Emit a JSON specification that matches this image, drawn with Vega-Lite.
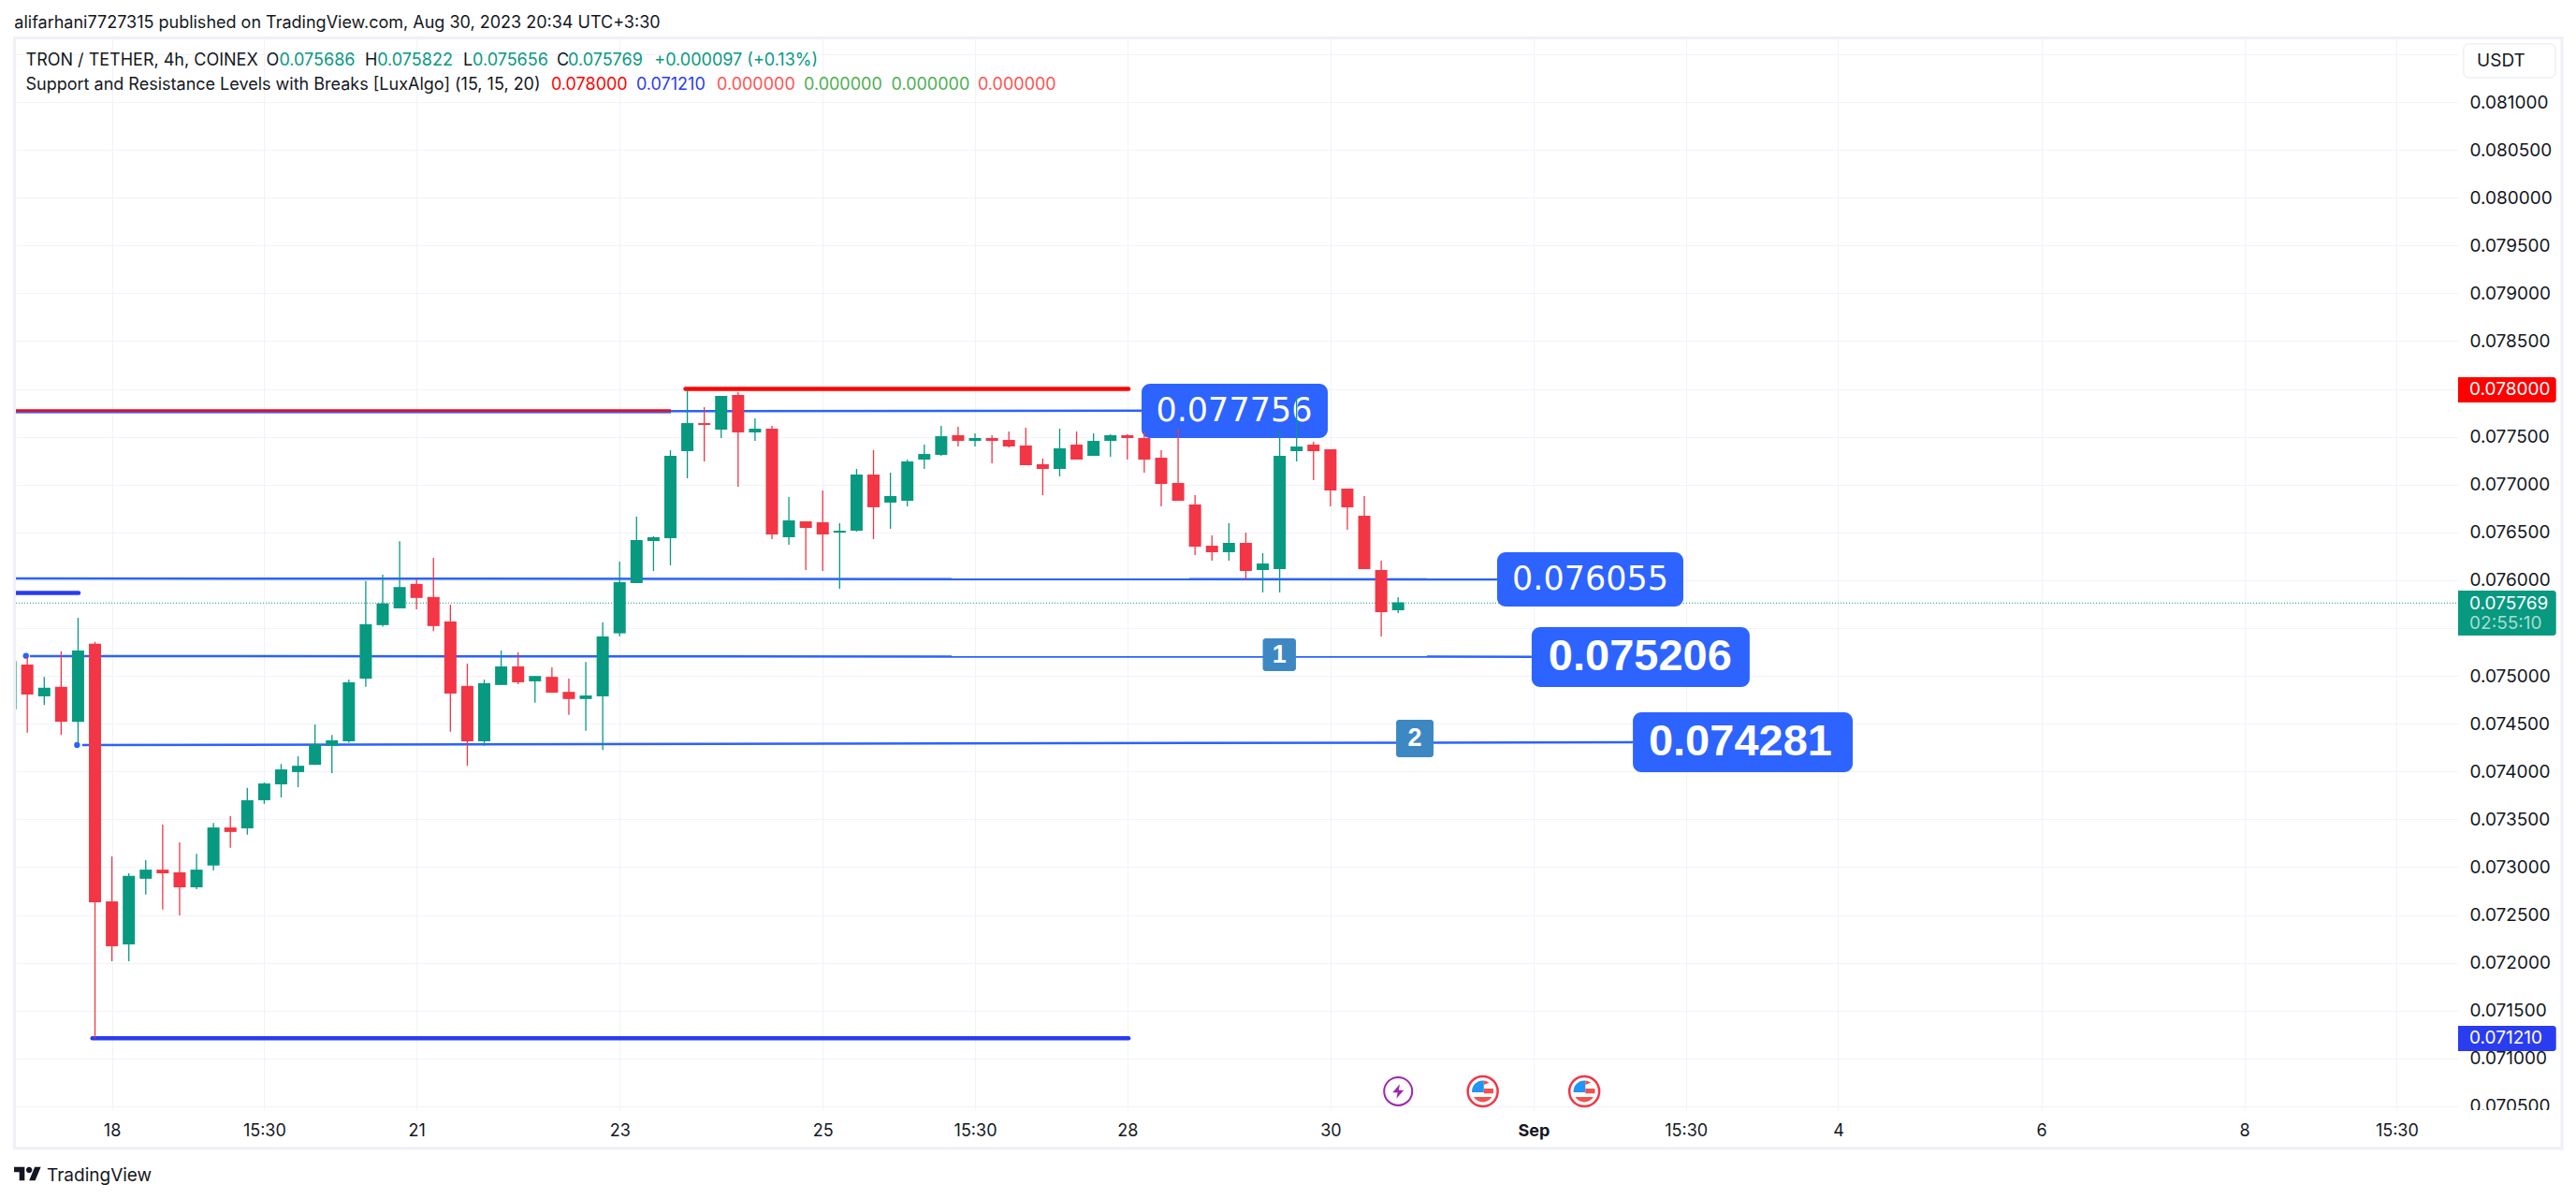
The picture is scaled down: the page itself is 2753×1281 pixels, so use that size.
{"$schema":"https://vega.github.io/schema/vega-lite/v6.json","width":2610,"height":1144,"autosize":{"type":"none"},"padding":{"left":17,"top":42,"right":126,"bottom":95},"background":"#ffffff","config":{"view":{"stroke":null},"font":"Inter"},
"datasets":{"candles":[
{"bar":-6,"o":0.074648,"h":0.075156,"l":0.074648,"c":0.075156},
{"bar":-5,"o":0.075118,"h":0.075194,"l":0.074407,"c":0.074805},
{"bar":-4,"o":0.074786,"h":0.07499,"l":0.074696,"c":0.074876},
{"bar":-3,"o":0.074886,"h":0.075256,"l":0.074383,"c":0.07452},
{"bar":-2,"o":0.07452,"h":0.075607,"l":0.074293,"c":0.075265},
{"bar":-1,"o":0.075336,"h":0.075355,"l":0.07121,"c":0.072633},
{"bar":0,"o":0.072642,"h":0.073112,"l":0.072016,"c":0.072173},
{"bar":1,"o":0.072192,"h":0.072936,"l":0.072016,"c":0.072908},
{"bar":2,"o":0.072879,"h":0.073074,"l":0.072713,"c":0.072974},
{"bar":3,"o":0.072974,"h":0.073444,"l":0.072557,"c":0.072936},
{"bar":4,"o":0.072946,"h":0.073259,"l":0.072495,"c":0.072789},
{"bar":5,"o":0.072789,"h":0.07314,"l":0.07277,"c":0.072974},
{"bar":6,"o":0.073017,"h":0.073463,"l":0.072965,"c":0.073415},
{"bar":7,"o":0.073415,"h":0.073534,"l":0.073202,"c":0.073368},
{"bar":8,"o":0.073406,"h":0.073828,"l":0.073339,"c":0.0737},
{"bar":9,"o":0.0737,"h":0.073885,"l":0.073662,"c":0.073875},
{"bar":10,"o":0.073866,"h":0.074079,"l":0.073728,"c":0.074022},
{"bar":11,"o":0.073994,"h":0.07416,"l":0.073837,"c":0.07406},
{"bar":12,"o":0.07407,"h":0.074492,"l":0.07407,"c":0.074283},
{"bar":13,"o":0.074269,"h":0.074383,"l":0.073984,"c":0.074326},
{"bar":14,"o":0.074316,"h":0.074961,"l":0.074302,"c":0.074933},
{"bar":15,"o":0.074971,"h":0.075991,"l":0.074886,"c":0.07554},
{"bar":16,"o":0.075531,"h":0.076057,"l":0.075516,"c":0.075758},
{"bar":17,"o":0.075706,"h":0.076408,"l":0.075706,"c":0.075929},
{"bar":18,"o":0.075962,"h":0.07601,"l":0.075697,"c":0.075815},
{"bar":19,"o":0.075825,"h":0.076233,"l":0.075469,"c":0.075521},
{"bar":20,"o":0.075569,"h":0.075744,"l":0.074416,"c":0.074814},
{"bar":21,"o":0.074895,"h":0.075128,"l":0.07406,"c":0.074316},
{"bar":22,"o":0.074316,"h":0.074961,"l":0.074269,"c":0.074924},
{"bar":23,"o":0.074905,"h":0.075265,"l":0.074905,"c":0.075099},
{"bar":24,"o":0.075099,"h":0.075246,"l":0.074914,"c":0.074933},
{"bar":25,"o":0.074943,"h":0.074999,"l":0.07472,"c":0.074999},
{"bar":26,"o":0.07499,"h":0.07509,"l":0.074824,"c":0.074824},
{"bar":27,"o":0.074833,"h":0.074971,"l":0.074592,"c":0.074758},
{"bar":28,"o":0.074758,"h":0.075146,"l":0.074425,"c":0.074795},
{"bar":29,"o":0.074786,"h":0.075559,"l":0.074226,"c":0.075412},
{"bar":30,"o":0.075445,"h":0.076195,"l":0.075412,"c":0.07598},
{"bar":31,"o":0.07597,"h":0.076665,"l":0.07597,"c":0.07642},
{"bar":32,"o":0.07641,"h":0.076459,"l":0.076097,"c":0.07645},
{"bar":33,"o":0.07644,"h":0.07736,"l":0.076156,"c":0.077301},
{"bar":34,"o":0.07735,"h":0.077989,"l":0.077066,"c":0.077643},
{"bar":35,"o":0.077643,"h":0.07781,"l":0.077242,"c":0.077624},
{"bar":36,"o":0.077575,"h":0.077927,"l":0.077487,"c":0.077927},
{"bar":37,"o":0.077937,"h":0.077966,"l":0.076978,"c":0.077546},
{"bar":38,"o":0.077546,"h":0.077692,"l":0.077457,"c":0.077585},
{"bar":39,"o":0.077585,"h":0.077614,"l":0.07643,"c":0.076479},
{"bar":40,"o":0.07645,"h":0.07687,"l":0.076371,"c":0.076626},
{"bar":41,"o":0.076616,"h":0.076616,"l":0.076107,"c":0.076547},
{"bar":42,"o":0.076606,"h":0.076939,"l":0.076097,"c":0.076479},
{"bar":43,"o":0.076498,"h":0.076596,"l":0.075911,"c":0.076518},
{"bar":44,"o":0.076518,"h":0.077164,"l":0.076508,"c":0.077105},
{"bar":45,"o":0.077105,"h":0.07736,"l":0.07643,"c":0.076763},
{"bar":46,"o":0.076812,"h":0.077125,"l":0.076538,"c":0.07688},
{"bar":47,"o":0.076831,"h":0.077262,"l":0.076772,"c":0.077242},
{"bar":48,"o":0.077262,"h":0.077418,"l":0.077164,"c":0.07732},
{"bar":49,"o":0.077311,"h":0.077614,"l":0.077301,"c":0.077506},
{"bar":50,"o":0.077516,"h":0.077604,"l":0.077399,"c":0.077457},
{"bar":51,"o":0.077457,"h":0.077536,"l":0.077399,"c":0.077487},
{"bar":52,"o":0.077487,"h":0.077516,"l":0.077223,"c":0.077457},
{"bar":53,"o":0.077467,"h":0.077555,"l":0.077389,"c":0.077399},
{"bar":54,"o":0.077409,"h":0.077594,"l":0.077203,"c":0.077203},
{"bar":55,"o":0.077213,"h":0.077272,"l":0.07689,"c":0.077164},
{"bar":56,"o":0.077164,"h":0.077585,"l":0.077086,"c":0.077379},
{"bar":57,"o":0.077418,"h":0.077555,"l":0.077262,"c":0.077262},
{"bar":58,"o":0.077301,"h":0.077536,"l":0.077301,"c":0.077457},
{"bar":59,"o":0.077457,"h":0.077526,"l":0.077291,"c":0.077516},
{"bar":60,"o":0.077516,"h":0.077526,"l":0.077262,"c":0.077487},
{"bar":61,"o":0.077487,"h":0.077555,"l":0.077124,"c":0.077261},
{"bar":62,"o":0.077281,"h":0.077359,"l":0.076772,"c":0.077007},
{"bar":63,"o":0.077017,"h":0.077584,"l":0.076831,"c":0.076831},
{"bar":64,"o":0.076792,"h":0.07689,"l":0.076263,"c":0.076351},
{"bar":65,"o":0.076361,"h":0.076469,"l":0.076205,"c":0.076293},
{"bar":66,"o":0.076293,"h":0.076596,"l":0.076205,"c":0.076391},
{"bar":67,"o":0.076391,"h":0.076498,"l":0.076009,"c":0.076097},
{"bar":68,"o":0.076107,"h":0.076283,"l":0.075872,"c":0.076175},
{"bar":69,"o":0.076117,"h":0.077575,"l":0.075872,"c":0.077301},
{"bar":70,"o":0.07735,"h":0.077927,"l":0.077242,"c":0.077398},
{"bar":71,"o":0.077418,"h":0.077447,"l":0.077046,"c":0.07735},
{"bar":72,"o":0.077369,"h":0.077369,"l":0.076772,"c":0.076939},
{"bar":73,"o":0.076958,"h":0.076958,"l":0.076528,"c":0.076762},
{"bar":74,"o":0.076674,"h":0.07688,"l":0.076117,"c":0.076117},
{"bar":75,"o":0.076107,"h":0.076205,"l":0.075412,"c":0.075666},
{"bar":76,"o":0.075686,"h":0.075822,"l":0.075656,"c":0.075769}
]},
"encoding":{
"x":{"field":"bar","type":"quantitative","title":null,"scale":{"domain":[-5.673,138.63],"nice":false,"zero":false,"padding":0},
"axis":{"orient":"bottom","values":[0,9,18,30,42,51,60,72,84,93,102,114,126,135],"labelExpr":"datum.value==0?'18':datum.value==18?'21':datum.value==30?'23':datum.value==42?'25':datum.value==60?'28':datum.value==72?'30':datum.value==84?'Sep':datum.value==102?'4':datum.value==114?'6':datum.value==126?'8':'15:30'","labelFontWeight":{"condition":{"test":"datum.value==84","value":700},"value":400},"labelFont":"Inter","labelFontSize":18,"labelColor":"#131722","labelPadding":13,"tickSize":0,"domain":false,"grid":true,"gridColor":"#f0f3fa","gridWidth":1,"labelFlush":false,"labelOverlap":false,"labelBound":false}},
"y":{"field":"price","type":"quantitative","title":null,"scale":{"domain":[0.07046,0.081656],"nice":false,"zero":false,"padding":0},
"axis":{"orient":"right","values":[0.0705,0.071,0.0715,0.072,0.0725,0.073,0.0735,0.074,0.0745,0.075,0.0755,0.076,0.0765,0.077,0.0775,0.078,0.0785,0.079,0.0795,0.08,0.0805,0.081,0.0815],"format":".6f","labelExpr":"(abs(datum.value-0.0815)<0.00001||abs(datum.value-0.0755)<0.00001||abs(datum.value-0.078)<0.00001)?'':datum.label","labelFont":"Inter","labelFontSize":19,"labelColor":"#131722","labelPadding":12,"tickSize":0,"domain":false,"grid":true,"gridColor":"#f0f3fa","gridWidth":1,"labelFlush":false,"labelOverlap":false,"labelBound":false}}
},
"layer":[
{"data":{"values":[{"bar":-5.756,"bar2":144.77,"price":0.08167,"price2":0.070059}]},"mark":{"type":"rect","fill":"transparent","stroke":"#f0f1f6","strokeWidth":3},"encoding":{"x2":{"field":"bar2"},"y2":{"field":"price2"}}},
{"data":{"values":[{"bar":-5.673,"bar2":138.63,"price":0.075762}]},"mark":{"type":"rule","color":"#089981","strokeWidth":1,"strokeDash":[1,2]},"encoding":{"x2":{"field":"bar2"}}},
{"data":{"values":[
{"name":"0.077756","bar":-5.673,"bar2":60.84,"price":0.07776,"price2":0.077774},
{"name":"0.076055","bar":-5.673,"bar2":81.85,"price":0.076019,"price2":0.076009},
{"name":"0.075206","bar":-4.84,"bar2":83.89,"price":0.075207,"price2":0.0752},
{"name":"0.074281","bar":-1.75,"bar2":89.87,"price":0.074277,"price2":0.074306}
]},"mark":{"type":"rule","color":"#2962ff","strokeWidth":2.5},"encoding":{"x2":{"field":"bar2"},"y2":{"field":"price2"}}},
{"data":{"values":[{"bar":-5.673,"bar2":33.03,"price":0.077746}]},"mark":{"type":"rule","color":"#f4a3b0","strokeWidth":1.2},"encoding":{"x2":{"field":"bar2"}}},
{"data":{"values":[{"bar":-5.673,"bar2":33.03,"price":0.077759}]},"mark":{"type":"rule","color":"#2962ff","strokeWidth":2},"encoding":{"x2":{"field":"bar2"}}},
{"data":{"values":[{"bar":-5.673,"bar2":33.03,"price":0.077776}]},"mark":{"type":"rule","color":"#ff0000","strokeWidth":2.2},"encoding":{"x2":{"field":"bar2"}}},
{"data":{"values":[{"bar":33.89,"bar2":60.07,"price":0.078}]},"mark":{"type":"rule","color":"#ff0000","strokeWidth":4.5,"strokeCap":"round"},"encoding":{"x2":{"field":"bar2"}}},
{"data":{"values":[{"bar":-1.155,"bar2":60.07,"price":0.07121},{"bar":-5.673,"bar2":-1.97,"price":0.075867}]},"mark":{"type":"rule","color":"#2a3cf0","strokeWidth":4.5,"strokeCap":"round","clip":true},"encoding":{"x2":{"field":"bar2"}}},
{"data":{"values":[{"bar":-5.08,"price":0.07521},{"bar":-2.06,"price":0.074277}]},"mark":{"type":"point","shape":"circle","filled":true,"color":"#2962ff","size":40,"opacity":1}},
{"data":{"values":[
{"bar":60.84,"bar2":71.84,"price":0.078054,"price2":0.077487},
{"bar":81.85,"bar2":92.85,"price":0.076293,"price2":0.075725},
{"bar":83.89,"bar2":96.77,"price":0.07551,"price2":0.074884},
{"bar":89.87,"bar2":102.86,"price":0.074619,"price2":0.073993}
]},"mark":{"type":"rect","fill":"#2d63ff","cornerRadius":9},"encoding":{"x2":{"field":"bar2"},"y2":{"field":"price2"}}},
{"data":{"values":[{"label":"0.077756","bar":66.31,"price":0.077766},{"label":"0.076055","bar":87.35,"price":0.076009}]},"mark":{"type":"text","font":"DejaVu Sans","fontSize":35,"color":"#ffffff","align":"center","baseline":"middle"},"encoding":{"text":{"field":"label"}}},
{"data":{"values":[{"label":"0.075206","bar":90.3,"price":0.075197},{"label":"0.074281","bar":96.22,"price":0.074306}]},"mark":{"type":"text","font":"Liberation Sans","fontWeight":"bold","fontSize":47,"color":"#ffffff","align":"center","baseline":"middle"},"encoding":{"text":{"field":"label"}}},
{"data":{"values":[{"bar":68.0,"bar2":69.96,"price":0.075393,"price2":0.07505},{"bar":75.88,"bar2":78.09,"price":0.074541,"price2":0.07415}]},"mark":{"type":"rect","fill":"#3d88c3","cornerRadius":3},"encoding":{"x2":{"field":"bar2"},"y2":{"field":"price2"}}},
{"data":{"values":[{"label":"1","bar":68.98,"price":0.07522},{"label":"2","bar":76.98,"price":0.074345}]},"mark":{"type":"text","font":"Liberation Sans","fontWeight":"bold","fontSize":27,"color":"#ffffff","align":"center","baseline":"middle"},"encoding":{"text":{"field":"label"}}},
{"data":{"name":"candles"},"mark":{"type":"rule","strokeWidth":1.3,"clip":true},"encoding":{"y":{"field":"l","type":"quantitative"},"y2":{"field":"h"},"color":{"condition":{"test":"datum.c>=datum.o","value":"#089981"},"value":"#f23645"}}},
{"data":{"name":"candles"},"mark":{"type":"bar","width":13,"clip":true},"encoding":{"y":{"field":"o","type":"quantitative"},"y2":{"field":"c"},"color":{"condition":{"test":"datum.c>=datum.o","value":"#089981"},"value":"#f23645"}}},
{"data":{"values":[{"bar":138.63,"bar2":144.6,"price":0.07046,"price2":0.07036}]},"mark":{"type":"rect","fill":"#ffffff"},"encoding":{"x2":{"field":"bar2"},"y2":{"field":"price2"}}},
{"data":{"values":[{"bar":138.63,"bar2":144.42,"price":0.078123,"price2":0.077859}]},"mark":{"type":"rect","fill":"#ff0000","cornerRadiusTopRight":3,"cornerRadiusBottomRight":3},"encoding":{"x2":{"field":"bar2"},"y2":{"field":"price2"}}},
{"data":{"values":[{"bar":138.63,"bar2":144.42,"price":0.075892,"price2":0.075422}]},"mark":{"type":"rect","fill":"#089981","cornerRadiusTopRight":3,"cornerRadiusBottomRight":3},"encoding":{"x2":{"field":"bar2"},"y2":{"field":"price2"}}},
{"data":{"values":[{"bar":138.63,"bar2":144.42,"price":0.071341,"price2":0.071077}]},"mark":{"type":"rect","fill":"#2a3cf0","cornerRadiusTopRight":3,"cornerRadiusBottomRight":3},"encoding":{"x2":{"field":"bar2"},"y2":{"field":"price2"}}},
{"data":{"values":[{"label":"0.078000","bar":139.3,"price":0.077991},{"label":"0.075769","bar":139.3,"price":0.075755},{"label":"0.071210","bar":139.3,"price":0.07121}]},"mark":{"type":"text","font":"Inter","fontSize":19,"color":"#ffffff","align":"left","baseline":"middle"},"encoding":{"text":{"field":"label"}}},
{"data":{"values":[{"label":"02:55:10","bar":139.3,"price":0.075552}]},"mark":{"type":"text","font":"Inter","fontSize":19,"color":"#a8dcd0","align":"left","baseline":"middle"},"encoding":{"text":{"field":"label"}}},
{"data":{"values":[{"bar":138.95,"bar2":144.38,"price":0.08161,"price2":0.081254}]},"mark":{"type":"rect","fill":"#ffffff","stroke":"#eef0f6","strokeWidth":1.5,"cornerRadius":6},"encoding":{"x2":{"field":"bar2"},"y2":{"field":"price2"}}},
{"data":{"values":[{"label":"USDT","bar":139.74,"price":0.081431}]},"mark":{"type":"text","font":"Inter","fontSize":19,"color":"#131722","align":"left","baseline":"middle"},"encoding":{"text":{"field":"label"}}},
{"data":{"values":[{"bar":76,"price":0.070656}]},"mark":{"type":"point","shape":"circle","filled":true,"fill":"#ffffff","stroke":"#9c27b0","strokeWidth":2,"size":900,"opacity":1}},
{"data":{"values":[{"bar":76,"price":0.070656}]},"mark":{"type":"point","shape":"M.15 -.65 L-.5 .1 L-.05 .1 L-.15 .65 L.5 -.1 L.05 -.1 Z","filled":true,"color":"#9c27b0","size":576,"opacity":1}},
{"data":{"values":[{"bar":81,"price":0.070656},{"bar":87,"price":0.070656}]},"mark":{"type":"point","shape":"circle","filled":true,"fill":"#ffffff","stroke":"#f23645","strokeWidth":2.5,"size":1024,"opacity":1}},
{"data":{"values":[{"bar":81,"price":0.070656},{"bar":87,"price":0.070656}]},"mark":{"type":"point","shape":"M-1 .1 A1 1 0 0 1 .1 -1 L.1 .1 Z","filled":true,"color":"#2196f3","size":529,"opacity":1}},
{"data":{"values":[{"bar":81,"price":0.070656},{"bar":87,"price":0.070656}]},"mark":{"type":"point","shape":"M.1 -1 A1 1 0 0 1 .6 -.8 L.1 -.6 Z M.1 -.25 L.97 -.25 A1 1 0 0 1 .97 .2 L.1 .2 Z M-.85 .52 L.85 .52 A1 1 0 0 1 -.85 .52 Z","filled":true,"color":"#ef5350","size":529,"opacity":1}},
{"data":{"values":[
{"label":"alifarhani7727315 published on TradingView.com, Aug 30, 2023 20:34 UTC+3:30","bar":-5.766,"price":0.081822,"kind":"ink"},
{"label":"TRON / TETHER, 4h, COINEX","bar":-5.092,"price":0.081431,"kind":"ink"},
{"label":"O","bar":9.123,"price":0.081431,"kind":"ink"},
{"label":"0.075686","bar":9.886,"price":0.081431,"kind":"up"},
{"label":"H","bar":14.95,"price":0.081431,"kind":"ink"},
{"label":"0.075822","bar":15.68,"price":0.081431,"kind":"up"},
{"label":"L","bar":20.755,"price":0.081431,"kind":"ink"},
{"label":"0.075656","bar":21.308,"price":0.081431,"kind":"up"},
{"label":"C","bar":26.284,"price":0.081431,"kind":"ink"},
{"label":"0.075769","bar":26.948,"price":0.081431,"kind":"up"},
{"label":"+0.000097 (+0.13%)","bar":32.05,"price":0.081431,"kind":"up"},
{"label":"Support and Resistance Levels with Breaks [LuxAlgo] (15, 15, 20)","bar":-5.092,"price":0.081176,"kind":"ink"},
{"label":"0.078000","bar":25.95,"price":0.081176,"kind":"resistance"},
{"label":"0.071210","bar":30.98,"price":0.081176,"kind":"support"},
{"label":"0.000000","bar":35.74,"price":0.081176,"kind":"bear"},
{"label":"0.000000","bar":40.88,"price":0.081176,"kind":"bull"},
{"label":"0.000000","bar":46.05,"price":0.081176,"kind":"bull"},
{"label":"0.000000","bar":51.16,"price":0.081176,"kind":"bear"}
]},"mark":{"type":"text","font":"Inter","fontSize":18,"align":"left","baseline":"middle"},"encoding":{"text":{"field":"label"},"color":{"field":"kind","type":"nominal","legend":null,"scale":{"domain":["ink","up","resistance","support","bear","bull"],"range":["#131722","#089981","#ff0000","#2a3cf0","#ff5252","#4caf50"]}}}},
{"data":{"values":[{"label":"TradingView","bar":-3.848,"price":0.069775}]},"mark":{"type":"text","font":"Inter","fontSize":19,"color":"#131722","align":"left","baseline":"middle"},"encoding":{"text":{"field":"label"}}},
{"data":{"values":[{"bar":-4.98,"price":0.069795}]},"mark":{"type":"point","shape":"M-1 -.5 H-.222 V.5 H-.611 V-.111 H-1 Z M.556 .5 H.111 L.528 -.5 H.972 Z M-.111 -.278 a.222 .222 0 1 0 .444 0 a.222 .222 0 1 0 -.444 0 Z","filled":true,"color":"#131722","size":841,"opacity":1}}
]}
